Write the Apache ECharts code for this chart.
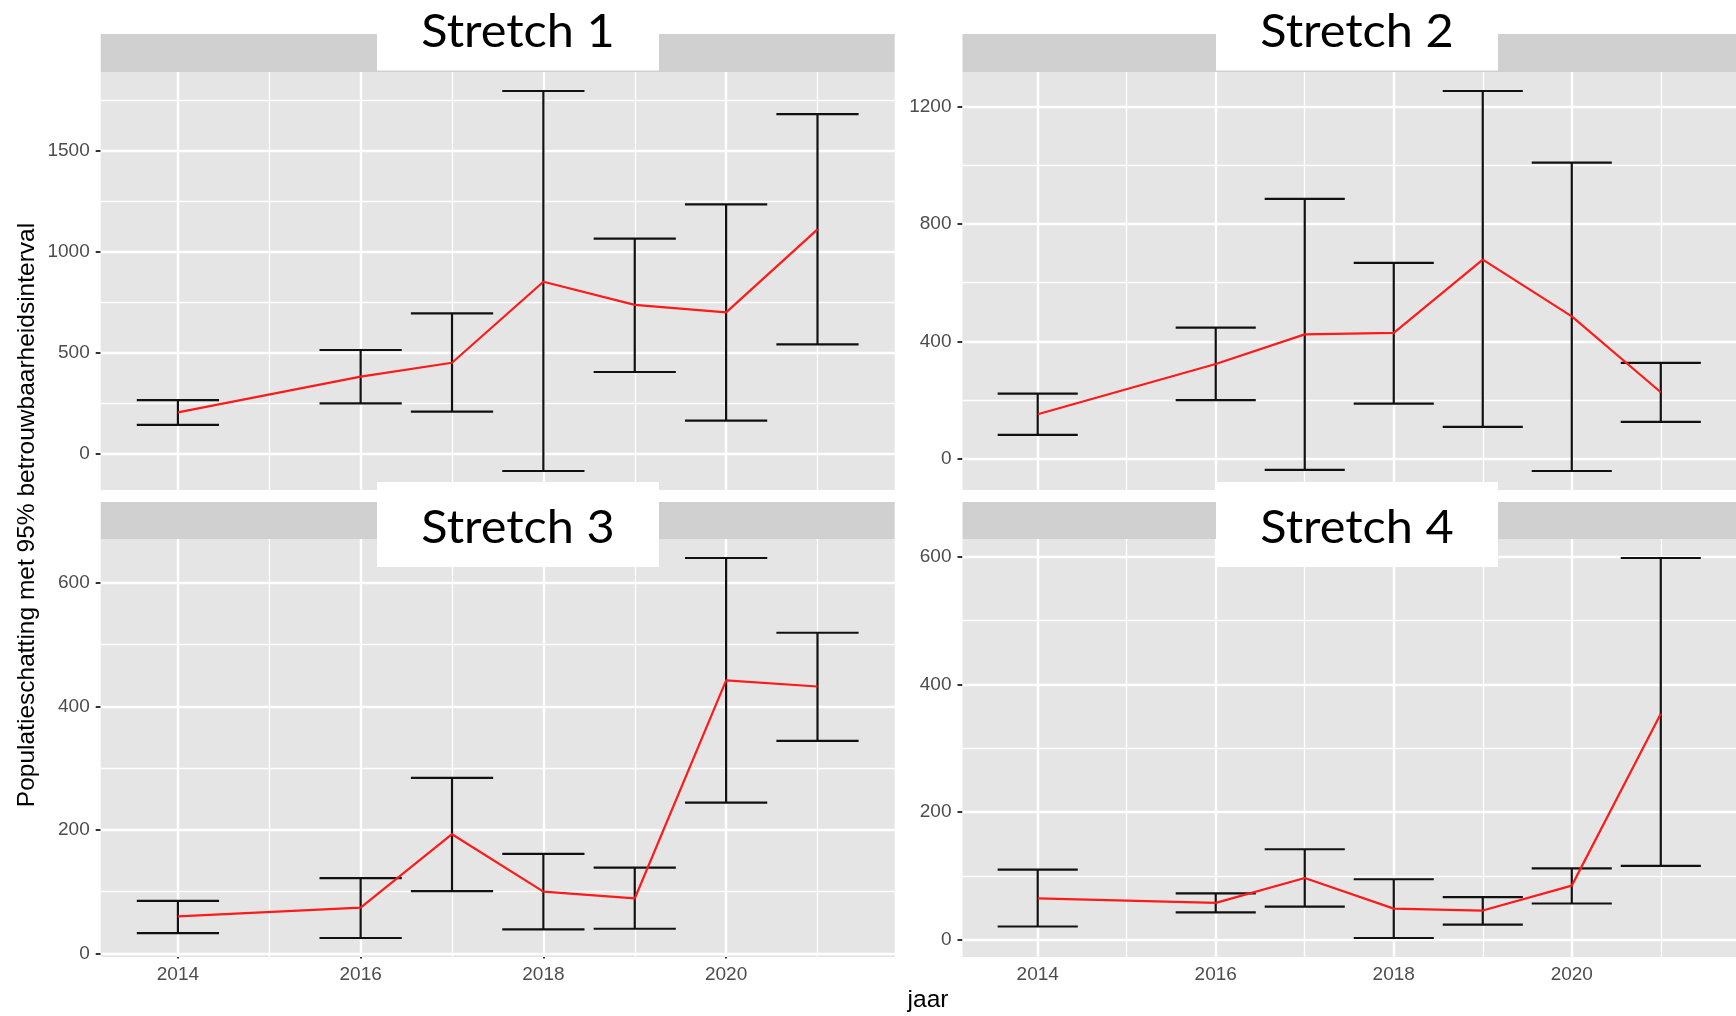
<!DOCTYPE html>
<html>
<head>
<meta charset="utf-8">
<title>Populatieschatting per stretch</title>
<script src="https://cdn.jsdelivr.net/npm/echarts@6/dist/echarts.min.js"></script>
<style>
  html, body { margin: 0; padding: 0; background: #ffffff; }
  #chart { width: 1736px; height: 1016px; }
</style>
</head>
<body>
<div id="chart"></div>
<script>
// ---- data ----
const years = [2014, 2016, 2017, 2018, 2019, 2020, 2021];
const stretchNames = ['Stretch 1', 'Stretch 2', 'Stretch 3', 'Stretch 4'];

const estimate1 = [206, 383, 452, 853, 738, 701, 1112];
const lower1    = [144, 251, 210, -84, 406, 165, 543];
const upper1    = [267, 515, 696, 1797, 1066, 1236, 1683];

const estimate2 = [152, 323, 424, 429, 678, 485, 227];
const lower2    = [82, 200, -37, 188, 109, -41, 126];
const upper2    = [222, 447, 885, 667, 1252, 1008, 327];

const estimate3 = [60, 74, 193, 100, 89, 442, 432];
const lower3    = [33, 25, 101, 39, 40, 244, 344];
const upper3    = [85, 122, 284, 161, 139, 640, 519];

const estimate4 = [65, 58, 97, 49, 46, 85, 354];
const lower4    = [21, 43, 52, 3, 24, 57, 116];
const upper4    = [110, 73, 142, 95, 67, 112, 598];

const xMajorTicks = [2014, 2016, 2018, 2020];
const xMinorTicks = [2015, 2017, 2019, 2021];
const yMajorTicks1 = [0, 500, 1000, 1500];
const yMinorTicks1 = [250, 750, 1250, 1750];
const yMajorTicks2 = [0, 400, 800, 1200];
const yMinorTicks2 = [200, 600, 1000];
const yMajorTicks3 = [0, 200, 400, 600];
const yMinorTicks3 = [100, 300, 500];
const yMajorTicks4 = [0, 200, 400, 600];
const yMinorTicks4 = [100, 300, 500];

const xTitle = 'jaar';
const yTitle = 'Populatieschatting met 95% betrouwbaarheidsinterval';

// ---- layout / style ----
const panels = [
  { est: estimate1, lo: lower1, hi: upper1, yMajor: yMajorTicks1, yMinor: yMinorTicks1 },
  { est: estimate2, lo: lower2, hi: upper2, yMajor: yMajorTicks2, yMinor: yMinorTicks2 },
  { est: estimate3, lo: lower3, hi: upper3, yMajor: yMajorTicks3, yMinor: yMinorTicks3 },
  { est: estimate4, lo: lower4, hi: upper4, yMajor: yMajorTicks4, yMinor: yMinorTicks4 }
];
const COL_X = [100.7, 962.5];
const ROW_Y = [72, 539];
const STRIP_Y = [34, 502];
const PANEL_W = 794;
const PANEL_H = 418;
const CAP_WIDTH = 0.9;          // error bar cap width, in years
const EXPAND = 0.05;            // axis padding on each side

const PANEL_BG = '#E5E5E5';
const STRIP_BG = '#D0D0D0';
const TICK_TEXT = '#4D4D4D';
const SANS = '"Liberation Sans", Arial, sans-serif';
const plainNumber = v => String(v);

const xLo = Math.min(...years) - CAP_WIDTH / 2;
const xHi = Math.max(...years) + CAP_WIDTH / 2;
const xPad = (xHi - xLo) * EXPAND;

const grids = [], xAxes = [], yAxes = [], series = [], graphics = [];

panels.forEach((p, i) => {
  const col = i % 2, row = Math.floor(i / 2);
  grids.push({
    left: COL_X[col], top: ROW_Y[row], width: PANEL_W, height: PANEL_H,
    show: true, backgroundColor: PANEL_BG, borderWidth: 0, containLabel: false
  });

  xAxes.push({
    type: 'value', gridIndex: i,
    min: xLo - xPad, max: xHi + xPad,
    show: row === 1,
    axisLine: { show: false },
    axisTick: { show: true, length: 5, customValues: xMajorTicks, lineStyle: { color: '#333333', width: 2 } },
    axisLabel: { show: true, customValues: xMajorTicks, formatter: plainNumber, color: TICK_TEXT, fontSize: 19, fontFamily: SANS, margin: 8 },
    splitLine: { show: false }, minorSplitLine: { show: false }
  });

  const yLo = Math.min(...p.lo), yHi = Math.max(...p.hi);
  const yPad = (yHi - yLo) * EXPAND;
  yAxes.push({
    type: 'value', gridIndex: i,
    min: yLo - yPad, max: yHi + yPad,
    axisLine: { show: false },
    axisTick: { show: true, length: 5, customValues: p.yMajor, lineStyle: { color: '#333333', width: 2 } },
    axisLabel: { show: true, customValues: p.yMajor, formatter: plainNumber, color: TICK_TEXT, fontSize: 19, fontFamily: SANS, margin: 11 },
    splitLine: { show: false }, minorSplitLine: { show: false }
  });

  // panel grid lines
  const major = { color: '#FFFFFF', width: 2.4, type: 'solid' };
  const minor = { color: '#FFFFFF', width: 1.3, type: 'solid' };
  series.push({
    type: 'line', xAxisIndex: i, yAxisIndex: i, data: [], z: 1, silent: true,
    markLine: {
      silent: true, symbol: ['none', 'none'], z: 1, animation: false,
      label: { show: false }, emphasis: { disabled: true },
      data: [
        ...xMinorTicks.map(v => ({ xAxis: v, lineStyle: minor })),
        ...p.yMinor.map(v => ({ yAxis: v, lineStyle: minor })),
        ...xMajorTicks.map(v => ({ xAxis: v, lineStyle: major })),
        ...p.yMajor.map(v => ({ yAxis: v, lineStyle: major }))
      ]
    }
  });

  // error bars
  series.push({
    type: 'custom', xAxisIndex: i, yAxisIndex: i, z: 3, silent: true, clip: false,
    data: years.map((y, k) => [y, p.lo[k], p.hi[k]]),
    encode: { x: 0, y: [1, 2] },
    renderItem: (params, api) => {
      const x = api.value(0);
      const top = api.coord([x, api.value(2)]);
      const bot = api.coord([x, api.value(1)]);
      const half = api.size([CAP_WIDTH, 0])[0] / 2;
      const style = { stroke: '#111111', lineWidth: 2.2, fill: null };
      return {
        type: 'group',
        children: [
          { type: 'line', shape: { x1: top[0], y1: top[1], x2: bot[0], y2: bot[1] }, style },
          { type: 'line', shape: { x1: top[0] - half, y1: top[1], x2: top[0] + half, y2: top[1] }, style },
          { type: 'line', shape: { x1: bot[0] - half, y1: bot[1], x2: bot[0] + half, y2: bot[1] }, style }
        ]
      };
    }
  });

  // population estimate line
  series.push({
    type: 'line', xAxisIndex: i, yAxisIndex: i, z: 4, silent: true,
    data: years.map((y, k) => [y, p.est[k]]),
    symbol: 'none',
    lineStyle: { color: '#FF1A1A', width: 2.2 }
  });

  // facet strip
  graphics.push({
    type: 'rect', z: 2, silent: true,
    shape: { x: COL_X[col], y: STRIP_Y[row], width: PANEL_W, height: ROW_Y[row] - STRIP_Y[row] },
    style: { fill: STRIP_BG }
  });
});

// stretch label boxes
const BOX_W = 282, BOX_H = 85;
const boxCenters = [[518, 28], [1357, 28], [518, 524.5], [1357, 524.5]];
stretchNames.forEach((name, i) => {
  const [cx, cy] = boxCenters[i];
  graphics.push({
    type: 'rect', z: 50, silent: true,
    shape: { x: cx - BOX_W / 2, y: cy - BOX_H / 2, width: BOX_W, height: BOX_H },
    style: { fill: '#FFFFFF' }
  });
  graphics.push({
    type: 'text', z: 51, silent: true,
    x: cx, y: cy + 3.5, scaleX: 1.035,
    style: {
      text: name, fill: '#000000',
      font: '47px Lato, "Open Sans", sans-serif',
      textAlign: 'center', textVerticalAlign: 'middle'
    }
  });
});

// axis titles
graphics.push({
  type: 'text', z: 51, silent: true,
  x: 27, y: 515, rotation: Math.PI / 2,
  style: { text: yTitle, fill: '#000000', font: '24.5px ' + SANS, textAlign: 'center', textVerticalAlign: 'middle' }
});
graphics.push({
  type: 'text', z: 51, silent: true,
  x: 928, y: 1000,
  style: { text: xTitle, fill: '#000000', font: '24.5px ' + SANS, textAlign: 'center', textVerticalAlign: 'middle' }
});

const chart = echarts.init(document.getElementById('chart'), null, { renderer: 'canvas' });
chart.setOption({
  animation: false,
  backgroundColor: '#FFFFFF',
  grid: grids,
  xAxis: xAxes,
  yAxis: yAxes,
  series: series,
  graphic: graphics
});
</script>
</body>
</html>
